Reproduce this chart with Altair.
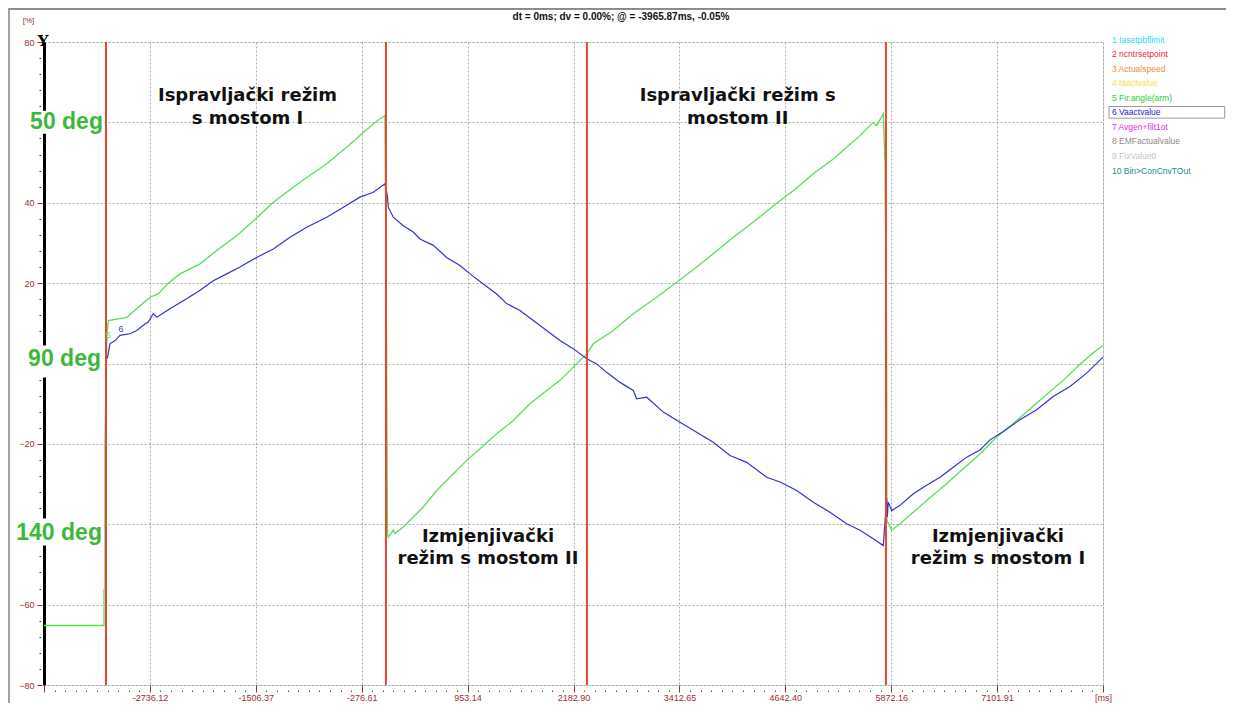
import altair as alt
import pandas as pd

# ---------------- data ----------------
X_MAJOR = [-3965.87, -2736.12, -1506.37, -276.61, 953.14, 2182.90,
           3412.65, 4642.40, 5872.16, 7101.91, 8331.66]
X_LABELS = ["", "-2736.12", "-1506.37", "-276.61", "953.14", "2182.90",
            "3412.65", "4642.40", "5872.16", "7101.91", "[ms]"]
Y_DOMAIN = [-80, 80]
Y_LABELLED = [80, 40, 20, -20, -60, -80]   # 60, 0, -40 are hidden under the angle labels

# 5 Fir.angle(arm)  (time ms, value %)
GREEN_POINTS = [
    (-3966, -65.2), (-3269, -65.2), (-3269, -56.2), (-3258, -56.2), (-3258, -19.9),
    (-3234, 7.5), (-3219, 10.7), (-3006, 11.5), (-2735, 16.5), (-2639, 17.3),
    (-2523, 20.0), (-2387, 22.3), (-2154, 24.8), (-1961, 28.1), (-1728, 31.8),
    (-1496, 36.2), (-1303, 40.1), (-993, 45.1), (-683, 49.7), (-451, 53.8),
    (-258, 57.5), (-103, 60.3), (-6, 61.7), (11, 9.0), (23, -42.3), (32, -43.2),
    (90, -41.5), (110, -42.3), (206, -40.7), (322, -38.2), (439, -35.7),
    (594, -31.6), (710, -29.1), (943, -24.1), (1097, -21.2), (1291, -17.5),
    (1484, -14.2), (1678, -10.0), (1871, -6.7), (2026, -4.2), (2180, -0.9),
    (2336, 2.4), (2413, 4.9), (2645, 8.2), (2877, 12.4), (3149, 16.5),
    (3381, 20.2), (3613, 24.0), (3806, 27.3), (4038, 31.4), (4194, 33.9),
    (4387, 37.2), (4581, 40.5), (4735, 43.0), (4967, 47.2), (5200, 50.9),
    (5355, 53.8), (5510, 56.7), (5664, 60.0), (5703, 59.2), (5780, 62.1),
    (5800, 50.1), (5820, 2.5), (5823, -39.1), (5878, -41.5), (5974, -39.9),
    (6129, -37.0), (6322, -33.4), (6516, -29.9), (6709, -26.2), (6903, -22.5),
    (7097, -18.3), (7290, -14.9), (7483, -11.3), (7677, -7.7), (7870, -4.2),
    (8064, -0.2), (8219, 2.7), (8331, 4.5),
]

# 6 Vaactvalue  (time ms, value %)
BLUE_POINTS = [
    (-3231, 1.2), (-3200, 4.9), (-3141, 5.7), (-3083, 7.0), (-2967, 7.4),
    (-2889, 8.2), (-2813, 9.5), (-2755, 10.3), (-2697, 12.4), (-2657, 11.5),
    (-2503, 13.6), (-2309, 16.1), (-2154, 18.2), (-2000, 20.6), (-1844, 22.3),
    (-1690, 24.0), (-1496, 26.4), (-1303, 28.5), (-1109, 31.4), (-915, 33.9),
    (-683, 36.4), (-490, 38.9), (-297, 41.4), (-142, 42.6), (-6, 44.7),
    (21, 41.8), (32, 38.9), (90, 36.4), (206, 34.3), (322, 32.7), (400, 31.0),
    (555, 29.4), (710, 26.4), (865, 24.4), (981, 22.3), (1135, 19.8),
    (1291, 17.3), (1407, 14.9), (1561, 13.2), (1716, 10.7), (1871, 8.2),
    (2026, 5.7), (2180, 3.7), (2336, 1.2), (2452, -0.1), (2568, -2.2),
    (2723, -4.7), (2877, -6.7), (2917, -8.8), (3033, -8.4), (3226, -12.1),
    (3419, -14.6), (3613, -17.1), (3806, -19.6), (4000, -22.9), (4194, -24.6),
    (4426, -28.3), (4581, -29.5), (4775, -31.6), (4967, -34.5), (5161, -37.0),
    (5355, -39.9), (5510, -41.5), (5664, -43.6), (5780, -45.3), (5820, -33.6),
    (5827, -38.2), (5838, -34.5), (5878, -36.6), (5974, -35.3), (6129, -32.4),
    (6284, -30.3), (6439, -28.3), (6593, -25.8), (6749, -23.3), (6903, -21.5),
    (7019, -19.0), (7174, -16.9), (7367, -14.0), (7561, -11.5), (7754, -8.2),
    (7948, -5.7), (8142, -2.4), (8331, 1.6),
]

CURSORS_MS = [-3246, 5, 2339, 5811]

LEGEND_NAMES = ["Iasetpbflimit", "ncntrsetpoint", "Actualspeed", "Iaactvalue",
                "Fir.angle(arm)", "Vaactvalue", "Avgen+filt1ot", "EMFactualvalue",
                "FixValue0", "Bin>ConCnvTOut"]
LEGEND_COLORS = ["#1FDDEE", "#EE1E3A", "#F58C2A", "#F0E040", "#2DCB2D",
                 "#2424CC", "#E030E0", "#8A8A8A", "#C4C4C4", "#208C8C"]
ACTIVE_LEGEND = 6

REGION_TEXTS = ["Ispravljački režim", "s mostom I",
                "Ispravljački režim s", "mostom II",
                "Izmjenjivački", "režim s mostom II",
                "Izmjenjivački", "režim s mostom I"]
DEG_LABELS = ["50 deg", "90 deg", "140 deg"]
TITLE = "dt = 0ms; dv = 0.00%; @ = -3965.87ms, -0.05%"

# ---------------- annotation placement (data units) ----------------
REGION_POS = [(-1603, 65.4), (-1603, 59.7), (4090, 65.4), (4090, 59.7),
              (1190, -44.5), (1190, -50.0), (7112, -44.5), (7112, -50.0)]
DEG_POS = [(-3281, 60.2), (-3304, 1.1), (-3293, -42.2)]
DEG_BOX = [(-4163, -3281, 57.2, 62.9), (-4163, -3281, -3.5, 4.5), (-4314, -3281, -45.3, -38.6)]
LEGEND_X, LEGEND_Y0, LEGEND_DY = 8436, 80.6, -3.62

RED = "#9A3030"
GREEN = "#55E055"
BLUE = "#3232D2"
CURSOR = "#E8452A"

# ---------------- axes ----------------
x_ticks = []
for a, b in zip(X_MAJOR[:-1], X_MAJOR[1:]):
    x_ticks.append(a)
    for j in range(1, 10):
        x_ticks.append(a + (b - a) * j / 10)
x_ticks.append(X_MAJOR[-1])

maj_js = "[" + ",".join(repr(float(v)) for v in X_MAJOR) + "]"
lab_js = "[" + ",".join("'" + s + "'" for s in X_LABELS) + "]"
ylab_js = "[" + ",".join(str(v) for v in Y_LABELLED) + "]"
is_major_x = f"indexof({maj_js}, datum.value) >= 0"
is_major_y = "datum.value % 20 == 0"


def cond(test, a, b):
    return {"condition": {"test": test, "value": a}, "value": b}


x_axis = alt.Axis(
    values=x_ticks, title=None, domain=False, grid=True, zindex=0,
    gridColor="#ababab", gridDash=[2, 2], gridWidth=1,
    gridOpacity=cond(is_major_x, 1, 0),
    tickSize=7, tickWidth=1,
    tickColor=cond(is_major_x, RED, "#555555"),
    tickDash=cond(is_major_x, [], [0, 5, 1.5, 20]),
    labelExpr=f"{is_major_x} ? {lab_js}[indexof({maj_js}, datum.value)] : ''",
    labelOverlap=False, labelFlush=False, labelPadding=1,
    labelFont="Liberation Sans", labelFontSize=9, labelColor=RED,
)

y_axis = alt.Axis(
    values=list(range(-80, 81, 4)), grid=True, zindex=0,
    gridColor="#ababab", gridDash=[2, 2], gridWidth=1,
    gridOpacity=cond(is_major_y, 1, 0),
    domainColor="black", domainWidth=3,
    tickSize=9, tickWidth=1,
    tickColor=cond(is_major_y, RED, "#333333"),
    tickDash=cond(is_major_y, [0, 2, 5, 20], [0, 3.5, 1.5, 20]),
    labelExpr=f"indexof({ylab_js}, datum.value) >= 0 ? datum.label : ''",
    labelOverlap=False, labelPadding=1,
    labelFont="Liberation Sans", labelFontSize=9, labelColor=RED,
    title="[%]", titleAngle=0, titleX=-16, titleY=-22, titleAlign="center",
    titleBaseline="middle", titleFont="Liberation Sans", titleFontSize=8,
    titleFontWeight="normal", titleColor=RED,
)

xs = alt.Scale(domain=[X_MAJOR[0], X_MAJOR[-1]], nice=False, zero=False)
ys = alt.Scale(domain=Y_DOMAIN, nice=False, zero=False)


def X(f):
    return alt.X(f"{f}:Q", scale=xs, axis=x_axis)


def Y(f):
    return alt.Y(f"{f}:Q", scale=ys, axis=y_axis)


# ---------------- tables ----------------
green_df = pd.DataFrame(GREEN_POINTS, columns=["t", "v"]).reset_index(names="i")
blue_df = pd.DataFrame(BLUE_POINTS, columns=["t", "v"]).reset_index(names="i")
cursor_df = pd.DataFrame({"t": CURSORS_MS})

region_df = pd.DataFrame({"text": REGION_TEXTS,
                          "t": [p[0] for p in REGION_POS],
                          "v": [p[1] for p in REGION_POS]})
deg_df = pd.DataFrame({"text": DEG_LABELS,
                       "t": [p[0] for p in DEG_POS],
                       "v": [p[1] for p in DEG_POS]})
box_df = pd.DataFrame(DEG_BOX, columns=["t", "t2", "v", "v2"])
legend_df = pd.DataFrame({
    "text": [f"{k + 1} {n}" for k, n in enumerate(LEGEND_NAMES)],
    "color": LEGEND_COLORS,
    "t": [LEGEND_X] * len(LEGEND_NAMES),
    "v": [LEGEND_Y0 + LEGEND_DY * k for k in range(len(LEGEND_NAMES))],
})
act_v = LEGEND_Y0 + LEGEND_DY * (ACTIVE_LEGEND - 1)
legend_box_df = pd.DataFrame({"t": [LEGEND_X - 35], "t2": [9745],
                              "v": [act_v - 1.45], "v2": [act_v + 1.45]})
title_df = pd.DataFrame({"text": [TITLE], "t": [2734], "v": [86.3]})
series_tag_df = pd.DataFrame({"text": ["5", "6"], "color": [GREEN, BLUE],
                              "t": [-3219, -3072], "v": [7.0, 8.7]})
arrow_df = pd.DataFrame({"text": ["Y"], "t": [-3977], "v": [78.9]})

# ---------------- layers ----------------
boxes = alt.Chart(box_df).mark_rect(color="white").encode(
    x=X("t"), x2="t2", y=Y("v"), y2="v2")

legend_box = alt.Chart(legend_box_df).mark_rect(
    fill="white", stroke="#9a9a9a", strokeWidth=1).encode(
    x=X("t"), x2="t2", y=Y("v"), y2="v2")

green_line = alt.Chart(green_df).mark_line(
    color=GREEN, strokeWidth=1.3, clip=True).encode(
    x=X("t"), y=Y("v"), order="i:Q")

blue_line = alt.Chart(blue_df).mark_line(
    color=BLUE, strokeWidth=1.2, clip=True).encode(
    x=X("t"), y=Y("v"), order="i:Q")

cursors = alt.Chart(cursor_df).mark_rule(color=CURSOR, strokeWidth=2).encode(x=X("t"))

regions = alt.Chart(region_df).mark_text(
    font="DejaVu Sans", fontSize=18, fontWeight="bold", color="#111111",
    align="center", baseline="alphabetic").encode(
    x=X("t"), y=Y("v"), text="text:N")

degs = alt.Chart(deg_df).mark_text(
    font="Liberation Sans", fontSize=23, fontWeight="bold", color="#3DB83D",
    align="right", baseline="middle").encode(
    x=X("t"), y=Y("v"), text="text:N")

legend = alt.Chart(legend_df).mark_text(
    font="Liberation Sans", fontSize=8.5, align="left", baseline="middle").encode(
    x=X("t"), y=Y("v"), text="text:N",
    color=alt.Color("color:N", scale=None))

title = alt.Chart(title_df).mark_text(
    font="Liberation Sans", fontSize=10, fontWeight="bold", color="#111111",
    align="center", baseline="middle").encode(
    x=X("t"), y=Y("v"), text="text:N")

tags = alt.Chart(series_tag_df).mark_text(
    font="Liberation Sans", fontSize=9, align="center", baseline="middle").encode(
    x=X("t"), y=Y("v"), text="text:N", color=alt.Color("color:N", scale=None))

arrow = alt.Chart(arrow_df).mark_text(
    font="DejaVu Serif", fontSize=15, fontWeight="bold", color="black",
    align="center", baseline="alphabetic").encode(
    x=X("t"), y=Y("v"), text="text:N")

frame_left = alt.Chart(cursor_df).mark_rule(color="#a0a0a0", strokeWidth=1.5).encode(
    x=alt.value(-35.25), y=alt.value(-33.25), y2=alt.value(661))
frame_top = alt.Chart(cursor_df).mark_rule(color="#8a8a8a", strokeWidth=1.5).encode(
    x=alt.value(-35.25), x2=alt.value(1182), y=alt.value(-33.25))

chart = alt.layer(
    boxes, legend_box, green_line, blue_line, cursors,
    regions, degs, legend, title, tags, arrow, frame_left, frame_top,
).properties(
    width=1059, height=643,
    autosize=alt.AutoSizeParams(type="none"),
    padding={"left": 36, "top": 34, "right": 123, "bottom": 18},
    background="white",
).configure_view(
    stroke="#ababab", strokeDash=[2, 2], strokeWidth=1,
)

chart.save("out.html", embed_options={"renderer": "svg", "actions": False})
